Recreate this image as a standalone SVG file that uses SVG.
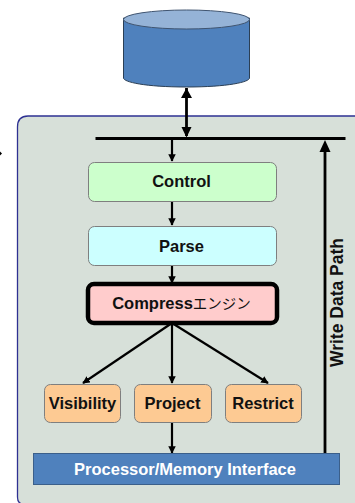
<svg xmlns="http://www.w3.org/2000/svg" width="355" height="503" viewBox="0 0 355 503">
<style>
text{font-family:"Liberation Sans","Noto Sans CJK JP",sans-serif;font-weight:700;text-anchor:middle;fill:#111;font-size:16.5px}
.n{stroke:#7f7f7f;stroke-width:1}
.c{fill:none;stroke:#000;stroke-width:2.2}
.a{fill:#000;stroke:none}
</style>
<defs>
<marker id="h" viewBox="0 0 10 10" refX="9" refY="5" markerWidth="3.400" markerHeight="3.400" orient="auto"><path class="a" d="M0 0L10 5L0 10Z"/></marker>
</defs>
<rect width="355" height="503" fill="#fff"/>
<path id="frame" d="M360 116H28Q17.500 116 17.500 127V497Q17.500 503 22 504H360Z" fill="#d7e0d9" stroke="#2e3192" stroke-width="1.300"/>
<path class="a" d="M0 151.500L2 153.500L0 155.500Z"/>
<g id="database">
<path d="M123.500 18V78C123.500 82 145 87 186.500 87S249.500 82 249.500 78V18Z" fill="#4f81bd" stroke="#2b3f55" stroke-width="1"/>
<ellipse cx="186.500" cy="19.500" rx="63" ry="9.500" fill="#95b3d7" stroke="#3f5470" stroke-width="1"/>
</g>
<g id="connectors">
<path d="M186.500 88V136" fill="none" stroke="#000" stroke-width="2.800"/>
<path class="a" d="M186.500 88L192 98H181ZM186.500 137.500L181.500 127H191.500Z"/>
<path d="M95.500 138.500H345.500" fill="none" stroke="#000" stroke-width="3"/>
<path class="c" d="M172 139V161" marker-end="url(#h)"/>
<path class="c" d="M172 201V225" marker-end="url(#h)"/>
<path class="c" d="M172 265V283" marker-end="url(#h)"/>
<path class="c" d="M172 323V383" marker-end="url(#h)"/>
<path class="c" d="M172 323L83 383" marker-end="url(#h)"/>
<path class="c" d="M172 323L268 383" marker-end="url(#h)"/>
<path class="c" d="M172 423V453" marker-end="url(#h)"/>
<path d="M325 453V150" fill="none" stroke="#000" stroke-width="2.800"/>
<path class="a" d="M325 140L330.500 152H319.500Z"/>
</g>
<g id="control"><rect class="n" x="88.500" y="162.500" width="188" height="39" rx="6" fill="#ccffcc"/><text x="181.500" y="187">Control</text></g>
<g id="parse"><rect class="n" x="88.500" y="226.500" width="188" height="39" rx="6" fill="#ccffff"/><text x="181.500" y="251.500">Parse</text></g>
<g id="compress"><rect x="88" y="284" width="189" height="39" rx="6" fill="#ffcccc" stroke="#000" stroke-width="4.500"/><text x="181.500" y="309">Compress<tspan font-weight="400" font-size="14.500">エンジン</tspan></text></g>
<g id="visibility"><rect class="n" x="44.500" y="384.500" width="76" height="38" rx="6" fill="#fdca93"/><text x="82.500" y="409">Visibility</text></g>
<g id="project"><rect class="n" x="134.500" y="384.500" width="77" height="38" rx="6" fill="#fdca93"/><text x="172.500" y="409">Project</text></g>
<g id="restrict"><rect class="n" x="225.500" y="384.500" width="76" height="38" rx="6" fill="#fdca93"/><text x="263" y="409">Restrict</text></g>
<g id="interface"><rect x="33.500" y="453.500" width="306" height="31" fill="#4f81bd" stroke="#3b5f8a" stroke-width="1"/><text x="185" y="475" style="fill:#fff">Processor/Memory Interface</text></g>
<text id="write-data-path" transform="translate(343 302.500) rotate(-90)" style="font-size:17.500px">Write Data Path</text>
</svg>
